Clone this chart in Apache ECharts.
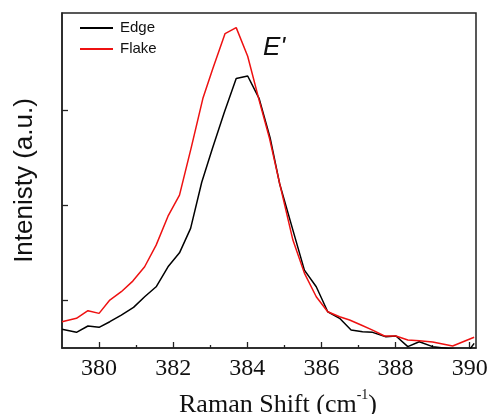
<!DOCTYPE html>
<html>
<head>
<meta charset="utf-8">
<script src="https://cdn.jsdelivr.net/npm/echarts@6/dist/echarts.min.js"></script>
<style>html,body{margin:0;padding:0;background:#fff}#c{width:491px;height:414px}</style>
</head>
<body>
<div id="c"></div>
<script>
// Data
const edgeX = [379.00,379.39,379.70,380.00,380.29,380.60,380.93,381.23,381.54,381.86,382.17,382.47,382.77,383.06,383.38,383.70,384.01,384.32,384.62,384.87,385.23,385.54,385.86,386.17,386.49,386.80,387.11,387.38,387.74,388.01,388.33,388.64,389.00,389.36,389.67,389.99,390.12];
const edgeY = [0.197,0.165,0.232,0.218,0.277,0.347,0.428,0.540,0.645,0.856,1.003,1.260,1.747,2.105,2.484,2.839,2.866,2.628,2.207,1.734,1.242,0.821,0.645,0.382,0.313,0.189,0.172,0.165,0.119,0.126,0.014,0.066,0.014,-0.003,-0.02,-0.02,0.049];
const flakeX = [379.00,379.39,379.70,380.00,380.29,380.60,380.91,381.23,381.54,381.86,382.17,382.49,382.80,383.07,383.40,383.70,384.01,384.33,384.60,384.87,385.23,385.54,385.86,386.17,386.49,386.76,387.07,387.38,387.70,388.01,388.33,388.64,389.00,389.54,390.12];
const flakeY = [0.277,0.313,0.393,0.365,0.505,0.593,0.705,0.856,1.084,1.389,1.611,2.116,2.628,2.944,3.313,3.376,3.074,2.593,2.207,1.737,1.137,0.789,0.540,0.382,0.329,0.295,0.242,0.189,0.126,0.126,0.084,0.077,0.063,0.021,0.113];
const xTickLabels = [380,382,384,386,388,390];
const xMinorTicks = [381,383,385,387,389];
const yTicks = [0.5,1.5,2.5];
const seriesNames = ['Edge','Flake'];
const peakLabel = "E'";

const zip = (xs, ys) => xs.map((x, i) => [x, ys[i]]);
const axisColor = '#222';

const chart = echarts.init(document.getElementById('c'), null, {renderer: 'canvas'});
chart.setOption({
  animation: false,
  backgroundColor: '#fff',
  grid: {left: 62, top: 13, right: 15, bottom: 66, show: true, borderColor: axisColor, borderWidth: 1.5, backgroundColor: 'transparent', containLabel: false, outerBoundsMode: 'none'},
  legend: {
    orient: 'vertical', left: 75, top: 14, itemWidth: 33, itemHeight: 2, itemGap: 3,
    icon: 'rect',
    data: seriesNames,
    textStyle: {fontFamily: 'Liberation Sans, Arial, sans-serif', fontSize: 15, lineHeight: 18, color: '#111', padding: [0, 0, 0, 2]}
  },
  graphic: [{
    type: 'text', left: 263, top: 35,
    style: {text: peakLabel, font: 'italic 26px "Liberation Sans", Arial, sans-serif', fill: '#111'}
  }],
  xAxis: [{
    type: 'value', min: 379, max: 390.17,
    axisLine: {show: true, lineStyle: {color: axisColor, width: 1.5}},
    axisTick: {show: true, inside: true, length: 6, customValues: xTickLabels, lineStyle: {color: axisColor, width: 1.3}},
    axisLabel: {show: true, customValues: xTickLabels, margin: 9, fontFamily: 'Liberation Serif, Times New Roman, serif', fontSize: 24, color: '#111'},
    splitLine: {show: false},
    name: '{a|Raman Shift (cm}{s|-1}{a|)}',
    nameLocation: 'middle', nameGap: 40,
    nameTextStyle: {
      padding: [0, 0, 0, 18],
      rich: {
        a: {fontFamily: 'Liberation Serif, Times New Roman, serif', fontSize: 26, color: '#111', verticalAlign: 'bottom', lineHeight: 30},
        s: {fontFamily: 'Liberation Serif, Times New Roman, serif', fontSize: 14, color: '#111', verticalAlign: 'top', lineHeight: 30}
      }
    }
  }, {
    type: 'value', min: 379, max: 390.17, position: 'bottom',
    axisLine: {show: false},
    axisTick: {show: true, inside: true, length: 3, customValues: xMinorTicks, lineStyle: {color: axisColor, width: 1.3}},
    axisLabel: {show: false},
    splitLine: {show: false}
  }],
  yAxis: {
    type: 'value', min: 0, max: 3.53,
    axisLine: {show: true, lineStyle: {color: axisColor, width: 1.5}},
    axisTick: {show: true, inside: true, length: 6, customValues: yTicks, lineStyle: {color: axisColor, width: 1.3}},
    axisLabel: {show: false},
    splitLine: {show: false},
    name: 'Intenisty (a.u.)', nameLocation: 'middle', nameGap: 24,
    nameTextStyle: {fontFamily: 'Liberation Sans, Arial, sans-serif', fontSize: 26, color: '#111'}
  },
  series: [{
    name: seriesNames[0], type: 'line', data: zip(edgeX, edgeY), symbol: 'none', clip: true,
    lineStyle: {color: '#000', width: 1.5}, itemStyle: {color: '#000'}
  }, {
    name: seriesNames[1], type: 'line', data: zip(flakeX, flakeY), symbol: 'none', clip: true,
    lineStyle: {color: '#ee1111', width: 1.5}, itemStyle: {color: '#ee1111'}
  }]
});
</script>
</body>
</html>
